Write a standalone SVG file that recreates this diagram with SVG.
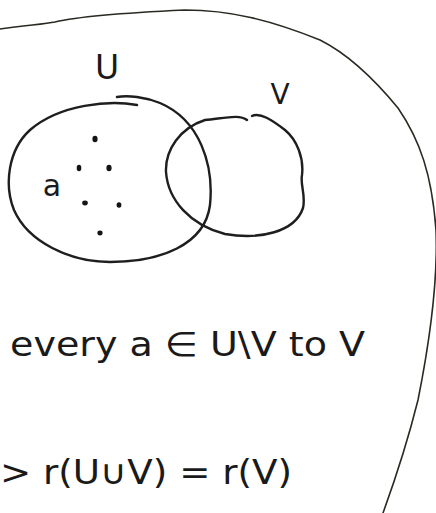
<svg xmlns="http://www.w3.org/2000/svg" width="436" height="513" viewBox="0 0 436 513">
<style>
.ink{fill:none;stroke:#1e1e1e;stroke-width:2.4;stroke-linecap:round;stroke-linejoin:round}
.thin{fill:none;stroke:#2a2a22;stroke-width:1.6;stroke-linecap:round}
.hand{font-family:"DejaVu Sans","Liberation Sans",sans-serif;fill:#1a1a1a}
.dot{fill:#141414}
</style>
<rect width="436" height="513" fill="#ffffff"/>
<g id="outline">
<path class="thin" d="M0,29 C30,25 45,24 55,22 C80,16 120,13 185,10 C230,10 270,20 320,40 C350,55 375,80 398,108 C420,140 432,175 436,230 C438,280 430,340 418,400 C408,440 395,480 383,513"/>
</g>
<g id="U">
<path class="ink" d="M137,105 C110,100 60,104 30,130 C8,150 4,185 14,210 C28,242 70,262 110,262 C160,262 205,245 210,205 C214,165 200,120 160,103 C145,97 128,95 117,97"/>
<text class="hand" x="107" y="79" font-size="33" text-anchor="middle">U</text>
</g>
<g id="V">
<path class="ink" d="M247,120 C240,114 225,118 205,120 C180,128 165,150 166,172 C168,200 190,225 225,234 C260,240 295,232 303,208 C306,195 300,185 302,175 C304,158 297,140 285,130 C272,120 260,112 252,116"/>
<text class="hand" x="280" y="104" font-size="28" text-anchor="middle">V</text>
</g>
<g id="points">
<ellipse class="dot" cx="95" cy="139" rx="2.6" ry="3.2"/>
<ellipse class="dot" cx="79" cy="168" rx="2.3" ry="3.2"/>
<ellipse class="dot" cx="109" cy="168" rx="2.6" ry="3.2"/>
<ellipse class="dot" cx="85" cy="203" rx="2.8" ry="2.4"/>
<ellipse class="dot" cx="119" cy="205" rx="2.4" ry="2.8"/>
<ellipse class="dot" cx="100" cy="233" rx="2.6" ry="2.4"/>
<text class="hand" x="52" y="196" font-size="30" text-anchor="middle">a</text>
</g>
<g id="statement">
<text class="hand" x="10" y="356" font-size="34" textLength="355" lengthAdjust="spacingAndGlyphs">every a ∈ U\V to V</text>
<text class="hand" x="0" y="484" font-size="34" textLength="292" lengthAdjust="spacingAndGlyphs">&gt; r(U∪V) = r(V)</text>
</g>
</svg>
